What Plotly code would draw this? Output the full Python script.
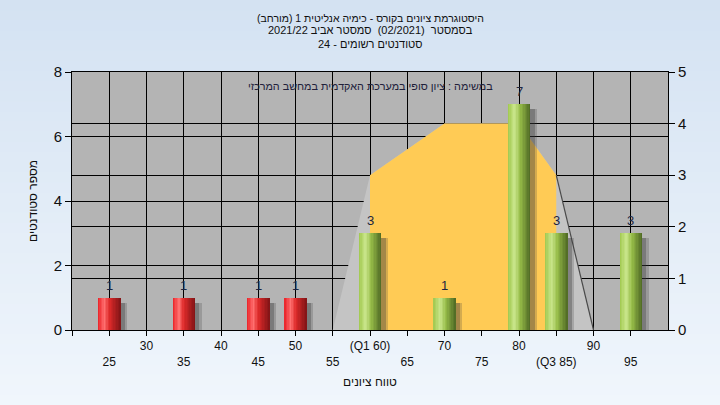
import plotly.graph_objects as go

# ---- data ----
bins = [25, 35, 45, 50, 60, 70, 80, 85, 95]
counts = [1, 1, 1, 1, 3, 1, 7, 3, 3]
pass_mark = 55
curve_x = [55, 60, 70, 80, 85, 90]
curve_y = [0, 3, 4, 4, 3, 0]
iqr_x = [60, 60, 70, 80, 85, 85]
iqr_y = [0, 3, 4, 4, 3, 0]
tick_vals = [20, 25, 30, 35, 40, 45, 50, 55, 60, 65, 70, 75, 80, 85, 90, 95]
tick_text = ["", "25", "30", "35", "40", "45", "50", "55", "(Q1 60)", "65", "70", "75", "80", "(Q3 85)", "90", "95"]
lower_row = [25, 35, 45, 55, 65, 75, 85, 95]
title_lines = [
    "היסטוגרמת ציונים בקורס - כימיה אנליטית 1 (מורחב)",
    "בסמסטר  (02/2021)  סמסטר אביב 2021/22",
    "סטודנטים רשומים - 24",
]
note_text = "במשימה : ציון סופי במערכת האקדמית במחשב המרכזי"
x_title = "טווח ציונים"
y_title = "מספר סטודנטים"

FONT = "Liberation Sans"
PLOT_H = 258.0

def lerp_stops(stops, t):
    for (t0, c0), (t1, c1) in zip(stops, stops[1:]):
        if t0 <= t <= t1:
            f = (t - t0) / (t1 - t0) if t1 > t0 else 0
            return "rgb(%d,%d,%d)" % tuple(round(a + (b - a) * f) for a, b in zip(c0, c1))
    return "rgb(%d,%d,%d)" % stops[-1][1]

red_stops = [(0, (232, 32, 38)), (0.28, (255, 112, 112)), (0.5, (222, 42, 42)), (1, (128, 20, 22))]
green_stops = [(0, (160, 200, 78)), (0.3, (202, 230, 140)), (0.55, (150, 188, 72)), (1, (78, 104, 36))]

fig = go.Figure()

# distribution curve areas on the main (right-side, 0-5) axis -> drawn beneath overlay bars
fig.add_trace(go.Scatter(x=curve_x, y=curve_y, mode="lines", fill="toself",
                         fillcolor="#c4c4c4", line=dict(width=0), yaxis="y",
                         hoverinfo="skip", showlegend=False))
fig.add_trace(go.Scatter(x=iqr_x, y=iqr_y, mode="lines", fill="toself",
                         fillcolor="#ffcb55", line=dict(width=0), yaxis="y",
                         hoverinfo="skip", showlegend=False))
fig.add_trace(go.Scatter(x=curve_x[-2:], y=curve_y[-2:], mode="lines",
                         line=dict(color="#4a4a4a", width=1.2), yaxis="y",
                         hoverinfo="skip", showlegend=False))

bw = 3.0
# shadows
for dx, a in [(0.9, 0.22), (0.6, 0.32)]:
    fig.add_trace(go.Bar(x=bins, y=[c - 0.15 for c in counts], width=bw, offset=-bw / 2 + dx,
                         marker=dict(color="rgba(60,60,60,%s)" % a, line=dict(width=0)),
                         yaxis="y2", hoverinfo="skip", showlegend=False))

N = 16
for i in range(N):
    t = (i + 0.5) / N
    cols = [lerp_stops(red_stops if b < pass_mark else green_stops, t) for b in bins]
    fig.add_trace(go.Bar(x=bins, y=counts, width=bw / N + 0.02, offset=-bw / 2 + i * bw / N,
                         marker=dict(color=cols, line=dict(width=0)),
                         yaxis="y2", hoverinfo="skip", showlegend=False))

# background gradient & plot bg
shapes = []
nb = 40
y_lo = -75 / PLOT_H
y_hi = 1 + 72 / PLOT_H
top_c = (212, 226, 242)
bot_c = (240, 246, 252)
for i in range(nb):
    f = i / (nb - 1)
    c = tuple(round(a + (b - a) * f) for a, b in zip(top_c, bot_c))
    y1 = y_hi - (y_hi - y_lo) * i / nb
    y0 = y_hi - (y_hi - y_lo) * (i + 1) / nb - 0.003
    shapes.append(dict(type="rect", xref="paper", yref="paper", x0=-0.2, x1=1.2, y0=y0, y1=y1,
                       fillcolor="rgb(%d,%d,%d)" % c, line=dict(width=0), layer="below"))
shapes.append(dict(type="rect", xref="paper", yref="paper", x0=0, x1=1, y0=0, y1=1,
                   fillcolor="#b4b4b4", line=dict(width=0), layer="below"))

ticktext2 = [("<br>" + t if v in lower_row else t) for v, t in zip(tick_vals, tick_text)]

annotations = []
for k, (line, ypx) in enumerate(zip(title_lines, [17.5, 30.5, 44])):
    annotations.append(dict(text=line, xref="paper", yref="paper", x=0.5, y=1 + (72 - ypx) / PLOT_H,
                            xanchor="center", yanchor="middle", showarrow=False,
                            font=dict(family=FONT, size=10.5 if k == 0 else 11, color="#101010")))
annotations.append(dict(text=note_text, xref="paper", yref="paper", x=0.5, y=1 - 13.5 / PLOT_H,
                        xanchor="center", yanchor="middle", showarrow=False,
                        font=dict(family=FONT, size=10.8, color="#20203a")))
for b, c in zip(bins, counts):
    annotations.append(dict(text=str(c), x=b, y=c, xref="x", yref="y2", yanchor="bottom",
                            yshift=3, showarrow=False,
                            font=dict(family=FONT, size=13, color="#1c2440")))

axis_common = dict(showgrid=True, gridcolor="#000000", gridwidth=1, automargin=False,
                   showline=True, linecolor="#000000", linewidth=1,
                   ticks="outside", ticklen=6, tickcolor="#000000", zeroline=False,
                   tickfont=dict(family=FONT, size=15, color="#101010"))

fig.update_layout(
    width=720, height=405,
    margin=dict(l=72, r=52, t=72, b=75, autoexpand=False),
    paper_bgcolor="#e4edf8", plot_bgcolor="rgba(0,0,0,0)",
    barmode="overlay", bargap=0,
    showlegend=False, hovermode=False,
    shapes=shapes,
    annotations=annotations,
    font=dict(family=FONT, size=12, color="#101010"),
    xaxis=dict(range=[20, 100], tickmode="array", tickvals=tick_vals, ticktext=ticktext2,
               showgrid=True, gridcolor="#000000", gridwidth=1, automargin=False,
               showline=True, linecolor="#000000", linewidth=1, mirror=True,
               ticks="outside", ticklen=5, tickcolor="#000000",
               tickfont=dict(family=FONT, size=12, color="#101010"),
               zeroline=False,
               title=dict(text=x_title, font=dict(family=FONT, size=12), standoff=9)),
    yaxis=dict(range=[0, 5], dtick=1, side="right", **axis_common),
    yaxis2=dict(range=[0, 8], dtick=2, side="left", overlaying="y",
                title=dict(text=y_title, font=dict(family=FONT, size=12), standoff=13),
                **axis_common),
)

fig.write_html("out.html", config={"displayModeBar": False, "staticPlot": True},
               post_script="document.body.style.margin='0';document.body.style.overflow='hidden';")
